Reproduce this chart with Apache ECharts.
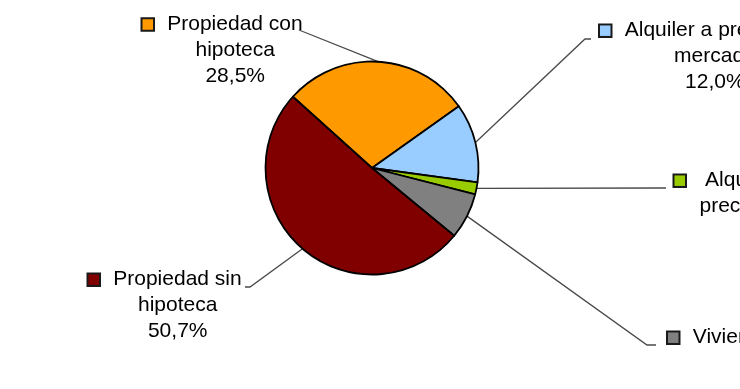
<!DOCTYPE html>
<html><head><meta charset="utf-8">
<script src="https://cdn.jsdelivr.net/npm/echarts@6/dist/echarts.min.js"></script>
<style>html,body{margin:0;padding:0;background:#fff}#c{width:740px;height:389px}</style>
</head><body><div id="c"></div>
<script>
const categories = ['Propiedad con\nhipoteca', 'Alquiler a precio de\nmercado', 'Alquiler inferior al\nprecio de mercado', 'Vivienda cedida gratis o a\nbajo precio', 'Propiedad sin\nhipoteca'];
const values = [28.5, 12.0, 1.8, 7.0, 50.7];
const colors = ['#FF9900', '#99CCFF', '#99CC00', '#808080', '#800000'];

// label placement: left edge of the widest text line, top of the label block, leader bend/end
const labelPos = [
  {left: 167.5, top: 11.5, bend: [304, 32], end: [299, 30]},
  {left: 625, top: 17.7, bend: [585, 39], end: [591, 39]},
  {left: 699.5, top: 167.7, bend: [660, 188], end: [666, 188]},
  {left: 693, top: 324.7, bend: [647, 345], end: [656, 345]},
  {left: 113.5, top: 266.7, bend: [250, 287], end: [245, 287]}
];

const FONT = '"Liberation Sans", Arial, sans-serif';
const FS = 21, LH = 26, SIDE = 25;
const ctx = document.createElement('canvas').getContext('2d');
ctx.font = FS + 'px ' + FONT;
function pct(v) { return v.toFixed(1).replace('.', ',') + '%'; }
function lines(i) { return categories[i].split('\n').concat([pct(values[i])]); }
const maxW = categories.map((c, i) => Math.max.apply(null, lines(i).map(l => ctx.measureText(l).width)));

const rich = {
  t: {fontSize: FS, fontFamily: FONT, color: '#000', lineHeight: LH, align: 'center'},
  gap: {width: 14, align: 'left', lineHeight: LH},
  lp: {width: SIDE, align: 'left', lineHeight: LH},
  pad: {width: SIDE, align: 'right', lineHeight: LH}
};
colors.forEach((c, i) => {
  rich['sq' + i] = {width: 10.5, height: 10.5, backgroundColor: c, borderColor: '#1a1a1a', borderWidth: 2, align: 'left', lineHeight: LH};
});

const data = categories.map((name, i) => ({
  name: name,
  value: values[i],
  itemStyle: {color: colors[i]},
  label: {width: maxW[i] + 2 * SIDE}
}));

const chart = echarts.init(document.getElementById('c'), null, {renderer: 'canvas'});
chart.setOption({
  animation: false,
  backgroundColor: '#fff',
  series: [{
    type: 'pie',
    center: [372, 168],
    radius: 106.5,
    startAngle: 138,
    clockwise: true,
    avoidLabelOverlap: false,
    silent: true,
    emphasis: {disabled: true},
    itemStyle: {borderColor: '#000', borderWidth: 1.8},
    label: {
      show: true,
      position: 'outside',
      overflow: 'none',
      fontSize: FS,
      fontFamily: FONT,
      lineHeight: LH,
      color: '#000',
      formatter: function (p) {
        const ls = lines(p.dataIndex);
        return ls.map((l, k) => (k === 0 ? '{sq' + p.dataIndex + '|}{gap|}' : '{lp|}') + '{t|' + l + '}{pad|}').join('\n');
      },
      rich: rich
    },
    labelLine: {show: true, smooth: false, lineStyle: {color: '#4a4a4a', width: 1.3}},
    labelLayout: function (p) {
      const L = labelPos[p.dataIndex];
      const res = {x: L.left + maxW[p.dataIndex] / 2, y: L.top, align: 'center', verticalAlign: 'top'};
      if (p.labelLinePoints && p.labelLinePoints[0]) {
        res.labelLinePoints = [p.labelLinePoints[0], L.bend, L.end];
      }
      return res;
    },
    data: data
  }]
});
</script>
</body></html>
